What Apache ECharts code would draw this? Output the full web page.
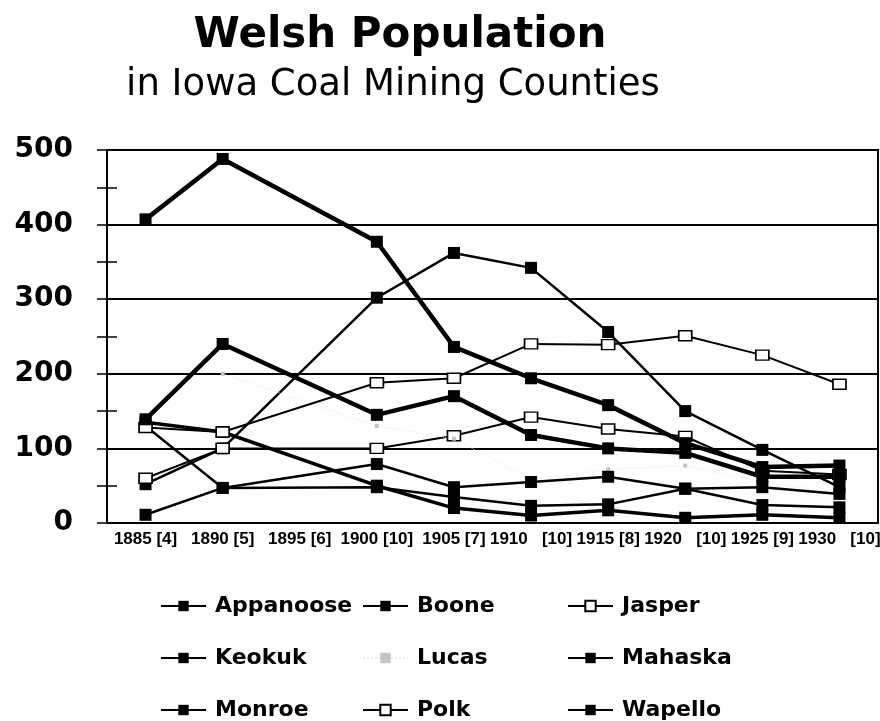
<!DOCTYPE html>
<html>
<head>
<meta charset="utf-8">
<script src="https://cdn.jsdelivr.net/npm/echarts@6/dist/echarts.min.js"></script>
<style>
  html, body { margin: 0; padding: 0; background: #fff; }
  #chart { width: 880px; height: 721px; }
</style>
</head>
<body>
<div id="chart"></div>
<script>
// census years, [n] = number of counties reported
const years = ['1885 [4]', '1890 [5]', '1895 [6]', '1900 [10]', '1905 [7]', '1910   [10]', '1915 [8]', '1920   [10]', '1925 [9]', '1930   [10]'];
const yTicks = [0, 100, 200, 300, 400, 500];

// Welsh-born population per county (1895 not reported)
const appanoose = [52, 100, null, 302, 362, 342, 256, 150, 98, 48];
const boone     = [130, 47, null, 48, 35, 23, 25, 46, 24, 21];
const jasper    = [60, 100, null, 100, 117, 142, 126, 116, 70, 65];
const keokuk    = [135, 122, null, 50, 20, 10, 17, 7, 11, 7];
const lucas     = [null, 200, null, 130, 113, 58, 72, 77, 55, 40];
const mahaska   = [407, 488, null, 377, 236, 194, 158, 107, 75, 77];
const monroe    = [11, 47, null, 79, 48, 55, 62, 46, 48, 39];
const polk      = [128, 122, null, 188, 194, 240, 239, 251, 225, 186];
const wapello   = [139, 240, null, 145, 170, 118, 100, 94, 62, 62];

const chart = echarts.init(document.getElementById('chart'));

function filled(name, data, width) {
  return {
    name, data, type: 'line', connectNulls: true,
    symbol: 'rect', symbolSize: 12,
    lineStyle: { color: '#000', width: width },
    itemStyle: { color: '#000', borderColor: '#000', borderWidth: 0 }
  };
}
function hollow(name, data) {
  return {
    name, data, type: 'line', connectNulls: true,
    symbol: 'rect', symbolSize: [13, 10],
    lineStyle: { color: '#000', width: 2 },
    itemStyle: { color: '#fff', borderColor: '#000', borderWidth: 1.5 }
  };
}

const series = [
  filled('Appanoose', appanoose, 2.5),
  filled('Boone', boone, 2.5),
  hollow('Jasper', jasper),
  filled('Keokuk', keokuk, 3.5),
  {
    name: 'Lucas', data: lucas, type: 'line', connectNulls: true,
    symbol: 'rect', symbolSize: 4,
    lineStyle: { color: '#eeeeee', width: 1, type: 'dotted' },
    itemStyle: { color: '#c4c4c4' }
  },
  filled('Mahaska', mahaska, 4.5),
  filled('Monroe', monroe, 2.5),
  hollow('Polk', polk),
  filled('Wapello', wapello, 4.5)
];

const legendText = {
  fontFamily: 'DejaVu Sans', fontWeight: 'bold', fontSize: 22, color: '#000',
  lineHeight: 22, padding: [0, 0, 0, 4]
};
function legendCol(left, names) {
  return {
    orient: 'vertical', left: left, top: 595, height: 130, itemGap: 30,
    itemWidth: 45, itemHeight: 13, data: names, padding: 0,
    textStyle: legendText, selectedMode: false
  };
}

const axisY = {
  type: 'value', min: 0, max: 500, interval: 100, position: 'left'
};

const option = {
  animation: false,
  backgroundColor: '#fff',
  title: [
    { text: 'Welsh Population', left: 395, top: 10, textAlign: 'center',
      textStyle: { fontFamily: 'DejaVu Sans', fontWeight: 'bold', fontSize: 42, color: '#000' } },
    { text: 'in Iowa Coal Mining Counties', left: 388, top: 62, textAlign: 'center',
      textStyle: { fontFamily: 'DejaVu Sans', fontWeight: 'normal', fontSize: 37, color: '#000' } }
  ],
  legend: [
    legendCol(160, ['Appanoose', 'Keokuk', 'Monroe']),
    legendCol(362, ['Boone', 'Lucas', 'Polk']),
    legendCol(567, ['Jasper', 'Mahaska', 'Wapello'])
  ],
  grid: {
    left: 107, right: 2, top: 150, bottom: 198,
    show: true, borderColor: '#000', borderWidth: 2,
    outerBoundsMode: 'none'
  },
  xAxis: [
    {
      type: 'category', data: years, boundaryGap: true, position: 'bottom',
      axisLine: { lineStyle: { color: '#000', width: 2 } },
      axisTick: { alignWithLabel: true, length: 9, lineStyle: { color: '#000', width: 1.5 } },
      axisLabel: { interval: 0, margin: 8, color: '#000', fontFamily: 'Liberation Sans', fontWeight: 'bold', fontSize: 17 }
    },
    {
      type: 'category', data: years, boundaryGap: true, position: 'bottom',
      axisLine: { show: false },
      axisTick: { alignWithLabel: true, inside: true, length: 9, lineStyle: { color: '#000', width: 1.5 } },
      axisLabel: { show: false }
    }
  ],
  yAxis: [
    Object.assign({}, axisY, {
      axisLine: { show: true, lineStyle: { color: '#000', width: 2 } },
      axisTick: { show: true, length: 10, lineStyle: { color: '#000', width: 1.5 } },
      minorTick: { show: true, splitNumber: 2, length: 10, lineStyle: { color: '#000', width: 1.5 } },
      splitLine: { show: true, lineStyle: { color: '#000', width: 2 } },
      axisLabel: {
        margin: 34, color: '#000', fontFamily: 'DejaVu Sans', fontWeight: 'bold', fontSize: 28,
        formatter: v => (yTicks.includes(v) ? String(v) : '')
      }
    }),
    Object.assign({}, axisY, {
      axisLine: { show: false },
      axisTick: { show: true, inside: true, length: 10, lineStyle: { color: '#000', width: 1.5 } },
      minorTick: { show: true, splitNumber: 2, length: 10, lineStyle: { color: '#000', width: 1.5 } },
      splitLine: { show: false },
      axisLabel: { show: false }
    })
  ],
  series: series
};

chart.setOption(option);
</script>
</body>
</html>
